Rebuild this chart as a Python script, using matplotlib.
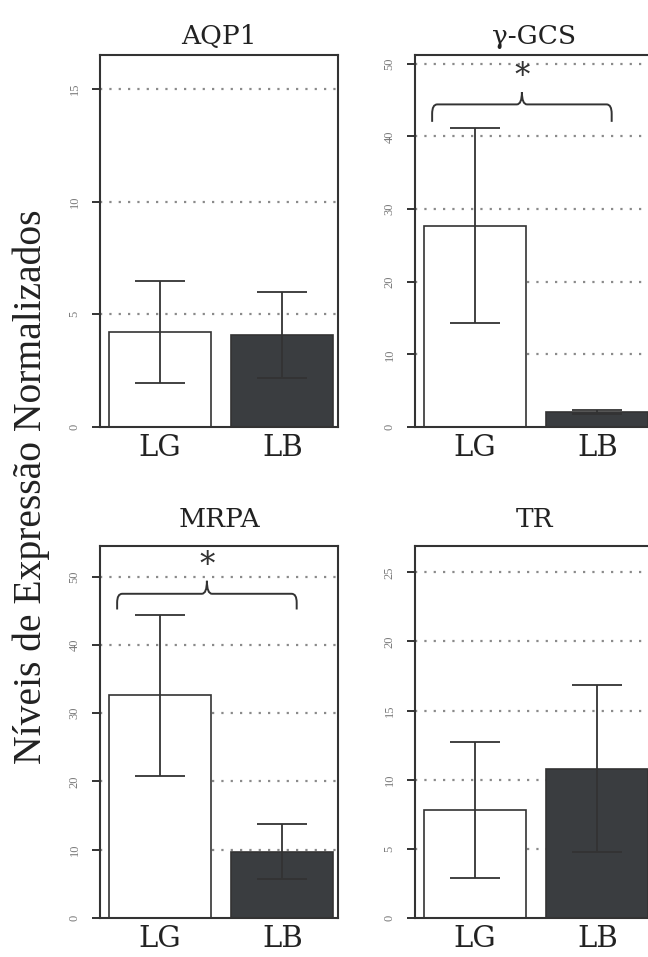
import numpy as np
import matplotlib.pyplot as plt
from matplotlib.path import Path
from matplotlib.patches import PathPatch

genes = ['AQP1', 'γ-GCS', 'MRPA', 'TR']
groups = ['LG', 'LB']
mean_lg = [4.22, 27.7, 32.6, 7.8]
mean_lb = [4.09, 2.1, 9.7, 10.8]
err_lg = [2.25, 13.45, 11.85, 4.9]
err_lb = [1.9, 0.3, 4.05, 6.05]
ymax = [16.5, 51.2, 54.5, 26.9]
ystep = [5, 10, 10, 5]
signif = [False, True, True, False]
# brace levels: leg ends, bar, tip, star
brace_lv = [None, (42.0, 44.4, 46.1, 48.2), (45.2, 47.5, 49.4, 51.6), None]

edge = '#333333'
dark = '#3a3d40'
grid_c = '#8a8a8a'

fig = plt.figure(figsize=(6.48, 9.57), dpi=100)
W, H = 648, 957

# axes boxes in pixels: left, top, right, bottom
boxes = [(100, 55, 338, 427), (415, 55, 653, 427),
         (100, 546, 338, 918), (415, 546, 653, 918)]
title_y = [44, 44, 527, 527]

xpos = np.array([0.5, 1.7])


def brace(ax, x0, x1, y_end, y_mid, y_tip, rx=0.05, ry=1.3):
    xc = (x0 + x1) / 2
    verts = [(x0, y_end), (x0, y_mid - ry), (x0, y_mid), (x0 + rx, y_mid),
             (xc - rx, y_mid), (xc, y_mid), (xc, y_tip),
             (xc, y_mid), (xc + rx, y_mid),
             (x1 - rx, y_mid), (x1, y_mid), (x1, y_mid - ry), (x1, y_end)]
    codes = [Path.MOVETO, Path.LINETO, Path.CURVE3, Path.CURVE3,
             Path.LINETO, Path.CURVE3, Path.CURVE3,
             Path.CURVE3, Path.CURVE3,
             Path.LINETO, Path.CURVE3, Path.CURVE3, Path.LINETO]
    ax.add_patch(PathPatch(Path(verts, codes), fill=False, ec=edge, lw=1.4,
                           zorder=5, clip_on=False))


for i, g in enumerate(genes):
    l, t, r, b = boxes[i]
    ax = fig.add_axes([l / W, (H - b) / H, (r - l) / W, (b - t) / H])
    ax.set_xlim(-0.088, 2.245)
    ax.set_ylim(0, ymax[i])
    ticks = np.arange(0, ymax[i], ystep[i])
    ax.set_yticks(ticks)
    ax.set_yticklabels([str(int(v)) for v in ticks])
    for v in ticks[1:]:
        ax.axhline(v, color=grid_c, lw=1.6, ls=(0, (1, 3.2)), zorder=1)

    ax.bar(xpos, [mean_lg[i], mean_lb[i]], width=1.0,
           color=['white', dark], edgecolor=edge, linewidth=1.2, zorder=2)
    ax.errorbar(xpos, [mean_lg[i], mean_lb[i]], yerr=[err_lg[i], err_lb[i]],
                fmt='none', ecolor=edge, elinewidth=1.3, capsize=18,
                capthick=1.3, zorder=3)

    if signif[i]:
        y_end, y_mid, y_tip, y_star = brace_lv[i]
        brace(ax, 0.08, 1.84, y_end, y_mid, y_tip)
        ax.text(0.96, y_star, '*', ha='center', va='center', fontsize=22,
                family='DejaVu Serif', color=edge)

    ax.set_xticks(xpos)
    ax.set_xticklabels(groups, family='DejaVu Serif', fontsize=21)
    ax.tick_params(axis='x', length=0, pad=5, colors='#222222')
    ax.tick_params(axis='y', labelrotation=90, length=6, width=1.4,
                   pad=8, labelsize=9, colors=edge, labelcolor='#7a7a7a')
    for lab in ax.get_yticklabels():
        lab.set_family('Liberation Serif')
        lab.set_va('center')
    for s in ax.spines.values():
        s.set_color(edge)
        s.set_linewidth(1.5)

    fig.text(((l + r) / 2) / W, 1 - title_y[i] / H, g, ha='center',
             va='baseline', family='DejaVu Serif', fontsize=19, color='#222222')

fig.text(31 / W, 1 - 487 / H, 'Níveis de Expressão Normalizados',
         rotation=90, ha='center', va='center', family='Liberation Serif',
         fontsize=28.5, color='#222222')

fig.savefig('out.png', dpi=100)
